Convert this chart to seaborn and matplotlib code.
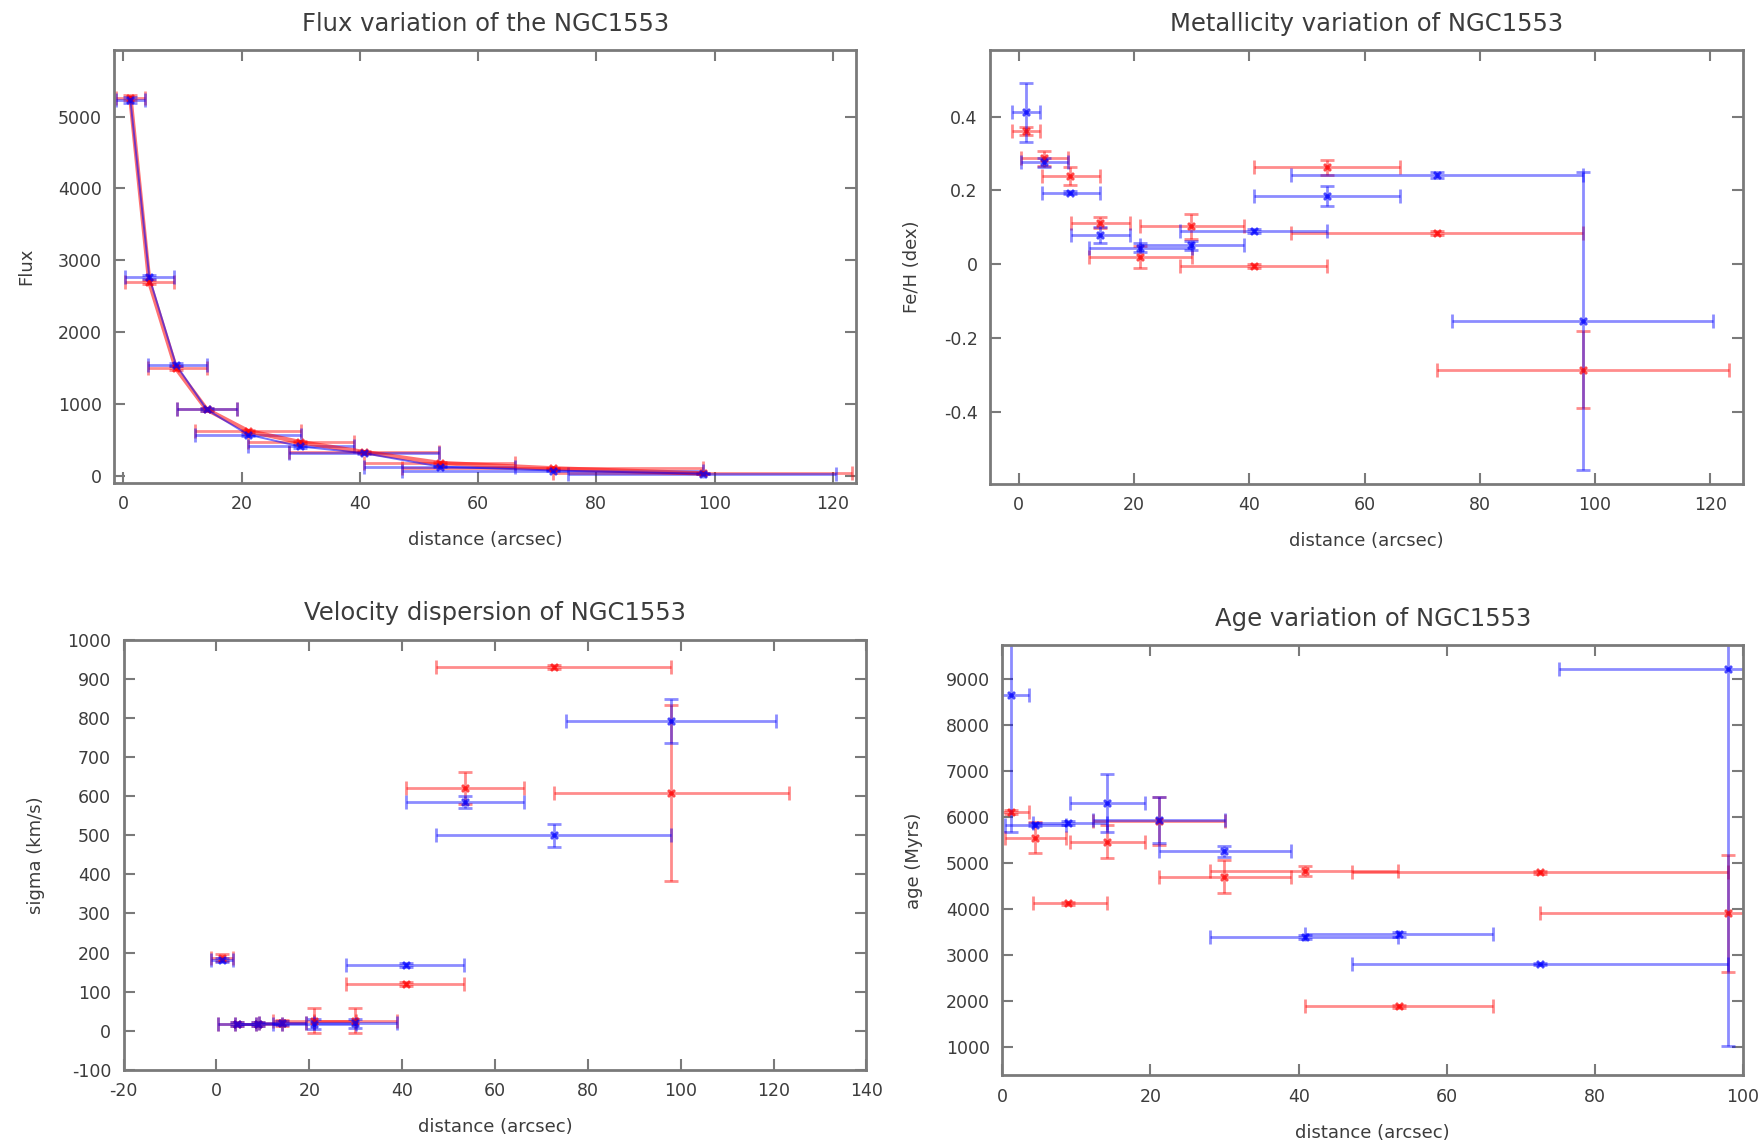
import matplotlib
matplotlib.use("Agg")
import matplotlib.pyplot as plt
import seaborn as sns
import pandas as pd
import numpy as np

# bin centres and x extents (arcsec)
dist = [1.2, 4.4, 8.9, 14.1, 21.1, 29.9, 40.8, 53.5, 72.6, 98.0]
dist_lo_blue = [-1.2, 0.3, 4.1, 9.1, 12.2, 21.1, 28.0, 40.8, 47.2, 75.2]
dist_hi_blue = [3.6, 8.6, 14.1, 19.3, 30.0, 39.0, 53.4, 66.2, 98.0, 120.5]
dist_lo_red = [-1.2, 0.3, 4.1, 9.1, 12.2, 21.1, 28.0, 40.8, 47.2, 72.6]
dist_hi_red = [3.6, 8.6, 14.1, 19.3, 30.0, 39.0, 53.4, 66.2, 98.0, 123.3]

# flux
flux_red = [5265, 2700, 1500, 925, 625, 470, 330, 180, 105, 35]
flux_red_err = [40, 30, 25, 20, 15, 15, 12, 10, 8, 6]
flux_blue = [5235, 2765, 1550, 925, 575, 410, 315, 130, 75, 30]
flux_blue_err = [40, 30, 25, 20, 15, 15, 12, 10, 8, 6]

# metallicity [Fe/H]
feh_red = [0.361, 0.287, 0.239, 0.112, 0.020, 0.103, -0.005, 0.262, 0.085, -0.286]
feh_red_err = [0.010, 0.020, 0.024, 0.015, 0.030, 0.034, 0.005, 0.020, 0.005, 0.105]
feh_blue = [0.411, 0.276, 0.194, 0.080, 0.045, 0.051, 0.089, 0.184, 0.242, -0.153]
feh_blue_err = [0.080, 0.012, 0.005, 0.022, 0.012, 0.012, 0.005, 0.027, 0.008, 0.404]

# velocity dispersion (km/s)
sig_red = [187, 17, 17, 20, 25, 25, 119, 621, 930, 608]
sig_red_err = [8, 5, 5, 8, 32, 32, 5, 40, 5, 225]
sig_blue = [180, 17, 17, 19, 17, 19, 168, 585, 500, 792]
sig_blue_err = [5, 5, 5, 5, 12, 12, 5, 15, 30, 57]

# age (Myrs)
age_red = [6109, 5555, 4127, 5470, 5910, 4705, 4826, 1890, 4804, 3908]
age_red_err = [40, 336, 30, 350, 526, 355, 110, 30, 30, 1273]
age_blue = [8652, 5840, 5877, 6311, 5935, 5254, 3390, 3455, 2810, 9218]
age_blue_err = [2978, 40, 40, 623, 500, 125, 40, 60, 30, 8196]

RED = "#ff0000"
BLUE = "#0000ff"
FRAME = "#7a7a7a"
TEXT = "#3c3c3c"

sns.set_style("white")
plt.rcParams["font.family"] = ["DejaVu Sans"]
plt.rcParams["axes.unicode_minus"] = False


def draw_series(ax, y, yerr, lo, hi, color, line=False, lw=2.0):
    x = np.array(dist)
    xerr = [x - np.array(lo), np.array(hi) - x]
    ax.errorbar(x, y, xerr=xerr, yerr=yerr, fmt="none", ecolor=color,
                elinewidth=2, capsize=5, capthick=2, alpha=0.45, zorder=2)
    df = pd.DataFrame({"d": dist, "v": y})
    if line:
        sns.lineplot(data=df, x="d", y="v", color=color, alpha=0.55,
                     linewidth=lw, ax=ax, sort=False, zorder=3)
    sns.scatterplot(data=df, x="d", y="v", color=color, marker="x", s=25,
                    linewidth=2, alpha=0.7, ax=ax, zorder=4)


def style_axes(ax, title, ylabel, xlim, ylim, xticks, yticks, ytick_labels=None):
    ax.set_xlim(*xlim)
    ax.set_ylim(*ylim)
    ax.set_xticks(xticks)
    ax.set_yticks(yticks)
    if ytick_labels is not None:
        ax.set_yticklabels(ytick_labels)
    ax.set_title(title, fontsize=17.5, color=TEXT, pad=14)
    ax.set_xlabel("distance (arcsec)", fontsize=13, color=TEXT, labelpad=13)
    ax.set_ylabel(ylabel, fontsize=13, color=TEXT, labelpad=16)
    for sp in ax.spines.values():
        sp.set_color(FRAME)
        sp.set_linewidth(2)
    ax.tick_params(direction="in", length=8, width=1.5, color=FRAME,
                   bottom=True, left=True, top=True, right=True,
                   labelsize=12.5, labelcolor=TEXT, pad=9)
    ax.grid(False)


fig = plt.figure(figsize=(17.6, 11.45), dpi=100)

ax1 = fig.add_axes([0.065, 0.5784, 0.4216, 0.3775])
draw_series(ax1, flux_red, flux_red_err, dist_lo_red, dist_hi_red, RED, line=True, lw=3.2)
draw_series(ax1, flux_blue, flux_blue_err, dist_lo_blue, dist_hi_blue, BLUE, line=True, lw=1.4)
style_axes(ax1, "Flux variation of the NGC1553", "Flux", (-1.5, 124.0), (-95, 5920),
           range(0, 121, 20), range(0, 5001, 1000))

ax2 = fig.add_axes([0.5625, 0.5775, 0.4279, 0.3784])
draw_series(ax2, feh_red, feh_red_err, dist_lo_red, dist_hi_red, RED)
draw_series(ax2, feh_blue, feh_blue_err, dist_lo_blue, dist_hi_blue, BLUE)
style_axes(ax2, "Metallicity variation of NGC1553", "Fe/H (dex)", (-5.0, 125.7), (-0.595, 0.579),
           range(0, 121, 20), [-0.4, -0.2, 0, 0.2, 0.4], ["-0.4", "-0.2", "0", "0.2", "0.4"])

ax3 = fig.add_axes([0.0702, 0.0657, 0.4221, 0.3755])
draw_series(ax3, sig_red, sig_red_err, dist_lo_red, dist_hi_red, RED)
draw_series(ax3, sig_blue, sig_blue_err, dist_lo_blue, dist_hi_blue, BLUE)
style_axes(ax3, "Velocity dispersion of NGC1553", "sigma (km/s)", (-20, 140), (-100, 1000),
           range(-20, 141, 20), range(-100, 1001, 100))

ax4 = fig.add_axes([0.5695, 0.0608, 0.4209, 0.3755])
draw_series(ax4, age_red, age_red_err, dist_lo_red, dist_hi_red, RED)
draw_series(ax4, age_blue, age_blue_err, dist_lo_blue, dist_hi_blue, BLUE)
style_axes(ax4, "Age variation of NGC1553", "age (Myrs)", (0, 100), (390, 9730),
           range(0, 101, 20), range(1000, 9001, 1000))

fig.savefig("out.png", dpi=100)
